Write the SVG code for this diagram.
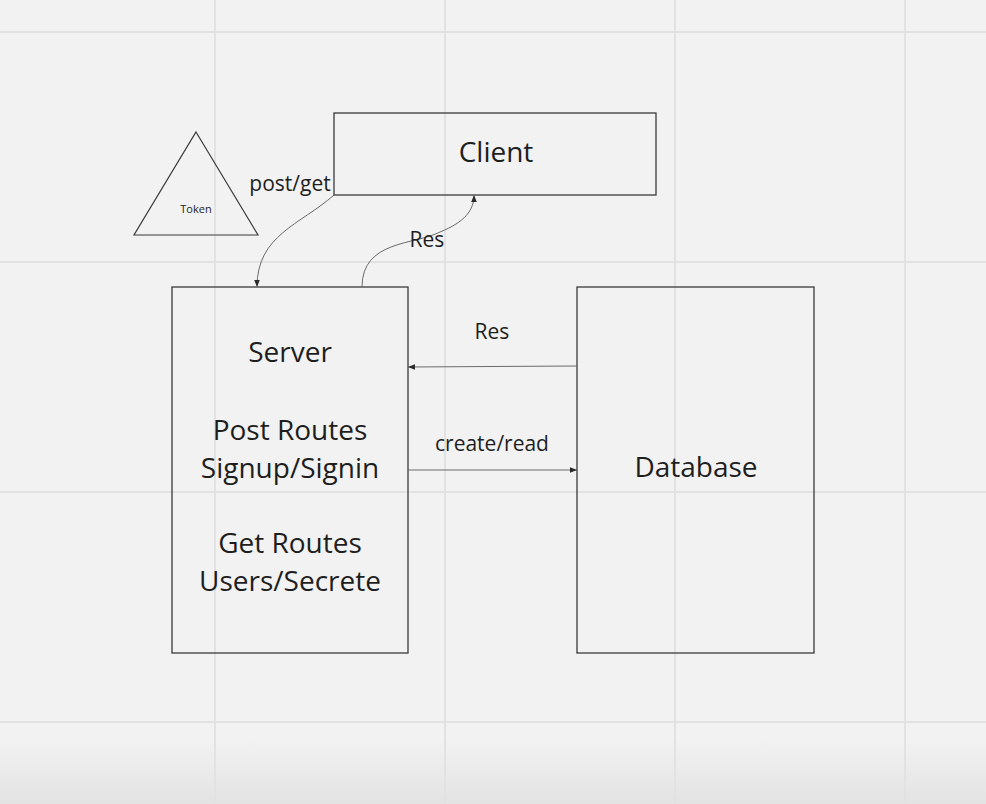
<svg xmlns="http://www.w3.org/2000/svg" width="986" height="804" viewBox="0 0 986 804">
<style>
.grid{stroke:#e2e2e2;stroke-width:2}
.box{fill:none;stroke:#3a3a3a;stroke-width:1.3}
.t{font-family:"Open Sans","Noto Sans",sans-serif;fill:#1e1e1e;text-anchor:middle}
.c{fill:none;stroke:#6a6a6a;stroke-width:1}
</style>
<defs>
<linearGradient id="bg" x1="0" y1="0" x2="0" y2="1">
<stop offset="0" stop-color="#f2f2f2"/>
<stop offset="0.92" stop-color="#f2f2f2"/>
<stop offset="1" stop-color="#e3e3e3"/>
</linearGradient>
<marker id="ah" viewBox="0 0 10 10" refX="10" refY="5" markerWidth="7" markerHeight="7" markerUnits="userSpaceOnUse" orient="auto">
<path d="M0,1 L10,5 L0,9 Z" fill="#2a2a2a"/>
</marker>
</defs>
<rect width="986" height="804" fill="url(#bg)"/>
<g id="grid">
<line class="grid" x1="215" y1="0" x2="215" y2="804"/>
<line class="grid" x1="445" y1="0" x2="445" y2="804"/>
<line class="grid" x1="675" y1="0" x2="675" y2="804"/>
<line class="grid" x1="905" y1="0" x2="905" y2="804"/>
<line class="grid" x1="0" y1="32" x2="986" y2="32"/>
<line class="grid" x1="0" y1="262" x2="986" y2="262"/>
<line class="grid" x1="0" y1="492" x2="986" y2="492"/>
<line class="grid" x1="0" y1="722" x2="986" y2="722"/>
</g>
<g id="token">
<polygon points="196,132 258,235 134,235" fill="none" stroke="#3a3a3a" stroke-width="1.2"/>
<text class="t" x="196" y="213" font-size="11">Token</text>
</g>
<g id="client">
<rect class="box" x="334" y="113" width="322" height="82"/>
<text class="t" x="496" y="162" font-size="28">Client</text>
</g>
<g id="server">
<rect class="box" x="172" y="287" width="236" height="366"/>
<text class="t" x="290" y="362" font-size="28">Server</text>
<text class="t" x="290" y="440" font-size="28">Post Routes</text>
<text class="t" x="290" y="478" font-size="28">Signup/Signin</text>
<text class="t" x="290" y="553" font-size="28">Get Routes</text>
<text class="t" x="290" y="591" font-size="28">Users/Secrete</text>
</g>
<g id="database">
<rect class="box" x="577" y="287" width="237" height="366"/>
<text class="t" x="696" y="477" font-size="28">Database</text>
</g>
<g id="connectors">
<path class="c" d="M334,195 C300,225 257,235 257,287" marker-end="url(#ah)"/>
<path class="c" d="M362,287 C362,240 415,245 440,232 C465,222 474,210 474,195" marker-end="url(#ah)"/>
<path class="c" d="M577,366 L408,367" marker-end="url(#ah)"/>
<path class="c" d="M408,470 L577,470" marker-end="url(#ah)"/>
<text class="t" x="290" y="191" font-size="21">post/get</text>
<text class="t" x="427" y="247" font-size="21">Res</text>
<text class="t" x="492" y="339" font-size="21">Res</text>
<text class="t" x="492" y="451" font-size="21">create/read</text>
</g>
</svg>
